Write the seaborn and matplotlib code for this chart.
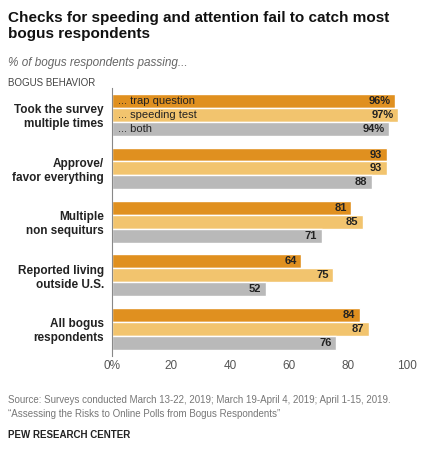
import matplotlib
matplotlib.use("Agg")
import matplotlib.pyplot as plt
import seaborn as sns
import pandas as pd

categories = ["Took the survey\nmultiple times", "Approve/\nfavor everything",
              "Multiple\nnon sequiturs", "Reported living\noutside U.S.", "All bogus\nrespondents"]
series = ["... trap question", "... speeding test", "... both"]
trap = [96, 93, 81, 64, 84]
speed = [97, 93, 85, 75, 87]
both = [94, 88, 71, 52, 76]
ticks = [0, 20, 40, 60, 80, 100]
tick_labels = ["0%", "20", "40", "60", "80", "100"]
colors = ["#E0901F", "#F2C46E", "#B9B9B9"]

rows = []
for i, c in enumerate(categories):
    for s, vals in zip(series, [trap, speed, both]):
        rows.append({"cat": c, "series": s, "value": vals[i]})
df = pd.DataFrame(rows)

sns.set_style("white")
plt.rcParams['font.family'] = ['Liberation Sans', 'DejaVu Sans']
fig = plt.figure(figsize=(4.25, 4.57), dpi=100)
ax = fig.add_axes([0.264, 0.222, 0.694, 0.585])
sns.barplot(data=df, y="cat", x="value", hue="series", palette=colors, orient="h",
            width=0.78, gap=0.0, ax=ax, legend=False, saturation=1)
ax.set_xlim(0, 100)
ax.set_ylim(4.5, -0.5)
ax.set_xticks(ticks)
ax.set_xticklabels(tick_labels, fontsize=8.5, color="#555555")
ax.set_xlabel(""); ax.set_ylabel("")
ax.tick_params(axis="y", labelsize=8.5, length=0, pad=6)
for lab in ax.get_yticklabels():
    lab.set_fontweight("bold"); lab.set_color("#222222")
ax.tick_params(axis="x", length=0)
for sp in ["top", "right", "bottom"]:
    ax.spines[sp].set_visible(False)
ax.spines["left"].set_color("#888888")

for ci, cont in enumerate(ax.containers):
    for j, bar in enumerate(cont):
        w = bar.get_width()
        txt = f"{int(w)}%" if j == 0 else f"{int(w)}"
        ax.text(w - 1.5, bar.get_y() + bar.get_height() / 2, txt, ha="right", va="center",
                fontsize=8, fontweight="bold", color="#222222")
        if j == 0:
            ax.text(2, bar.get_y() + bar.get_height() / 2, series[ci], ha="left", va="center",
                    fontsize=8, color="#222222")

fig.text(0.02, 0.975, "Checks for speeding and attention fail to catch most\nbogus respondents",
         fontsize=11, fontweight="bold", va="top", color="#111111", linespacing=1.15)
fig.text(0.02, 0.855, "% of bogus respondents passing...", fontsize=8.5, style="italic", color="#666666")
fig.text(0.02, 0.812, "BOGUS BEHAVIOR", fontsize=7, color="#444444")
fig.text(0.02, 0.135, "Source: Surveys conducted March 13-22, 2019; March 19-April 4, 2019; April 1-15, 2019.\n\u201cAssessing the Risks to Online Polls from Bogus Respondents\u201d",
         fontsize=7, color="#777777", va="top", linespacing=1.4)
fig.text(0.02, 0.06, "PEW RESEARCH CENTER", fontsize=7, fontweight="bold", color="#222222", va="top")
fig.savefig("out.png", dpi=100)
